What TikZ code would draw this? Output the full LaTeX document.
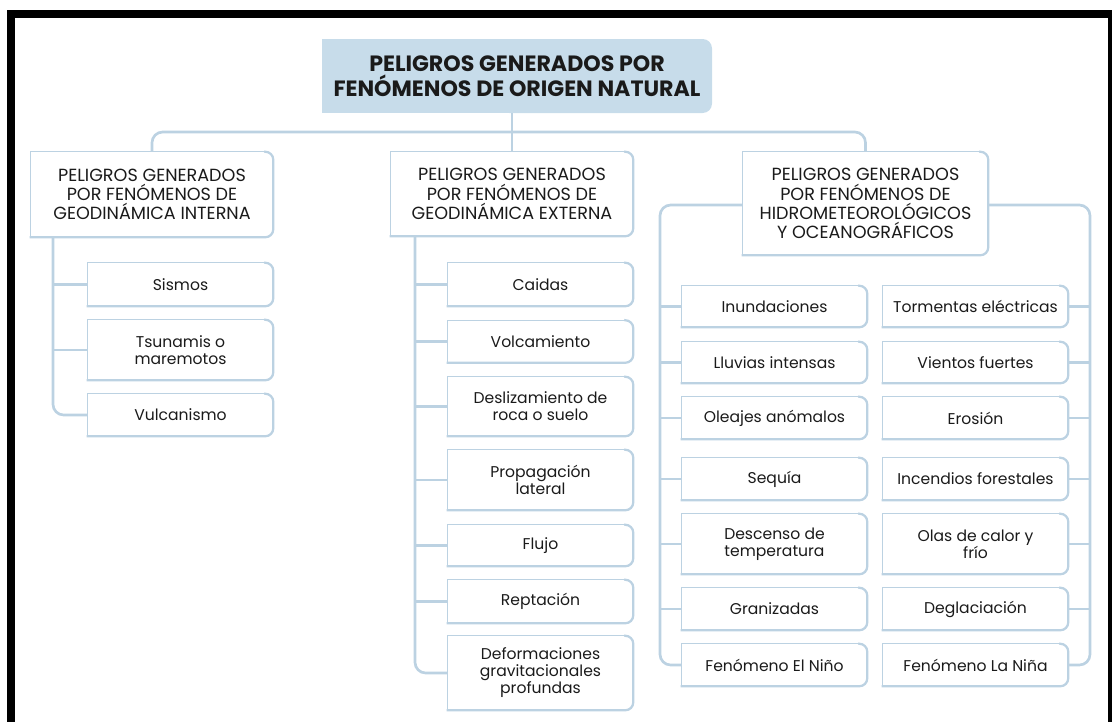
\documentclass[tikz,border=0pt]{standalone}
\usepackage{fontspec}
\setmainfont{Poppins}
\usetikzlibrary{positioning}

\definecolor{lineblue}{HTML}{BCD2E2}
\definecolor{rootfill}{HTML}{C7DCEA}
\definecolor{inkgray}{HTML}{1A1A1A}

\begin{document}
\begin{tikzpicture}[x=0.75pt,y=-0.75pt,
  size/.style 2 args={minimum width=#1*0.75pt,minimum height=#2*0.75pt},
  rootbox/.style={inner sep=0pt,align=center,text=inkgray,font=\fontsize{16.6}{18.75}\selectfont\bfseries},
  groupbox/.style={inner sep=0pt,align=center,text=inkgray,font=\fontsize{13.2}{14.4}\selectfont},
  leafbox/.style={inner sep=0pt,align=center,text=inkgray,font=\fontsize{11.7}{12.75}\selectfont},
  edge/.style={draw=lineblue,line width=1pt,line cap=rect},
  shade/.style={draw=lineblue,line width=1.7pt,line cap=rect,rounded corners=6pt},
  link/.style={draw=lineblue,line width=2pt}]
  \useasboundingbox (0,0) rectangle (1112,722);
  % black frame
  \fill[black] (7,10) rectangle (1112,18);
  \fill[black] (7,10) rectangle (15,722);
  \fill[black] (1108,10) rectangle (1112,722);

  % root fill, rounded on the right only
  \fill[rootfill] (322,39) rectangle (560,113);
  \fill[rootfill,rounded corners=7pt] (500,39) rectangle (712,113);

  % root and groups
  \node[rootbox,size={390}{74}] (root) at (517,76) {PELIGROS GENERADOS POR\\FENÓMENOS DE ORIGEN NATURAL};
  \node[groupbox,size={242}{85}] (gi) at (152,194.5) {PELIGROS GENERADOS\\POR FENÓMENOS DE\\GEODINÁMICA INTERNA};
  \node[groupbox,size={242}{84}] (ge) at (512,194) {PELIGROS GENERADOS\\POR FENÓMENOS DE\\GEODINÁMICA EXTERNA};
  \node[groupbox,size={245}{103}] (hm) at (865.5,203.5) {PELIGROS GENERADOS\\POR FENÓMENOS DE\\HIDROMETEOROLÓGICOS\\Y OCEANOGRÁFICOS};

  % geodinamica interna
  \node[leafbox,size={185}{43}] (sismos) at (180.5,284.5) {Sismos};
  \node[leafbox,size={185}{60}] (tsunami) at (180.5,350) {Tsunamis o\\maremotos};
  \node[leafbox,size={185}{42}] (vulcan) at (180.5,415) {Vulcanismo};

  % geodinamica externa
  \node[leafbox,size={185}{43}] (caidas) at (540.5,284.5) {Caidas};
  \node[leafbox,size={185}{42}] (volcam) at (540.5,341.5) {Volcamiento};
  \node[leafbox,size={185}{59}] (desliz) at (540.5,406.5) {Deslizamiento de\\roca o suelo};
  \node[leafbox,size={185}{60}] (propag) at (540.5,480) {Propagación\\lateral};
  \node[leafbox,size={185}{41}] (flujo) at (540.5,545.5) {Flujo};
  \node[leafbox,size={185}{43}] (reptac) at (540.5,601.5) {Reptación};
  \node[leafbox,size={185}{74}] (deform) at (540.5,673) {Deformaciones\\gravitacionales\\profundas};

  % hidrometeorologicos, left column
  \node[leafbox,size={185}{41}] (inund) at (774.5,306.5) {Inundaciones};
  \node[leafbox,size={185}{41}] (lluvia) at (774.5,362.5) {Lluvias intensas};
  \node[leafbox,size={185}{42}] (oleaje) at (774.5,418) {Oleajes anómalos};
  \node[leafbox,size={185}{42}] (sequia) at (774.5,479) {Sequía};
  \node[leafbox,size={185}{60}] (descen) at (774.5,544) {Descenso de\\temperatura};
  \node[leafbox,size={185}{42}] (graniz) at (774.5,609) {Granizadas};
  \node[leafbox,size={185}{42}] (nino) at (774.5,665) {Fenómeno El Niño};

  % hidrometeorologicos, right column
  \node[leafbox,size={185}{41}] (torment) at (975.5,306.5) {Tormentas eléctricas};
  \node[leafbox,size={185}{41}] (viento) at (975.5,362.5) {Vientos fuertes};
  \node[leafbox,size={185}{42}] (erosion) at (975.5,418) {Erosión};
  \node[leafbox,size={185}{42}] (incend) at (975.5,479) {Incendios forestales};
  \node[leafbox,size={185}{60}] (olas) at (975.5,544) {Olas de calor y\\frío};
  \node[leafbox,size={185}{42}] (deglac) at (975.5,609) {Deglaciación};
  \node[leafbox,size={185}{42}] (nina) at (975.5,665) {Fenómeno La Niña};

  % box outlines: thin top and left, heavier rounded right and bottom
  \foreach \n in {gi,ge,hm,sismos,tsunami,vulcan,caidas,volcam,desliz,propag,flujo,reptac,deform,
                  inund,lluvia,oleaje,sequia,descen,graniz,nino,torment,viento,erosion,incend,olas,deglac,nina}{
    \draw[edge] (\n.south west) -- (\n.north west) -- ([xshift=-6pt]\n.north east);
    \draw[shade] ([xshift=-6pt]\n.north east) -- (\n.north east) -- (\n.south east) -- (\n.south west);
  }

  % connectors
  \coordinate (bus) at (512,132);
  \coordinate (giT) at (53,0);
  \coordinate (geT) at (415,0);
  \coordinate (hmL) at (660,205);
  \coordinate (hmR) at (1090,205);
  \draw[link,rounded corners=8pt] (gi.north) |- (bus) -| (hm.north);
  \draw[link] (root.south -| ge.north) -- (ge.north);
  \draw[link,rounded corners=8pt] (gi.south -| giT) |- (vulcan.west);
  \foreach \n in {sismos,tsunami}
    \draw[link] (\n.west -| giT) -- (\n.west);
  \draw[link,rounded corners=8pt] (ge.south -| geT) |- (deform.west);
  \foreach \n in {caidas,volcam,desliz,propag,flujo,reptac}
    \draw[link] (\n.west -| geT) -- (\n.west);
  \draw[link,rounded corners=8pt] (hm.west |- hmL) -- (hmL) |- (nino.west);
  \draw[link,rounded corners=8pt] (hm.east |- hmR) -- (hmR) |- (nina.east);
  \foreach \n in {inund,lluvia,oleaje,sequia,descen,graniz}
    \draw[link] (\n.west -| hmL) -- (\n.west);
  \foreach \n in {torment,viento,erosion,incend,olas,deglac}
    \draw[link] (\n.east) -- (\n.east -| hmR);
\end{tikzpicture}
\end{document}
